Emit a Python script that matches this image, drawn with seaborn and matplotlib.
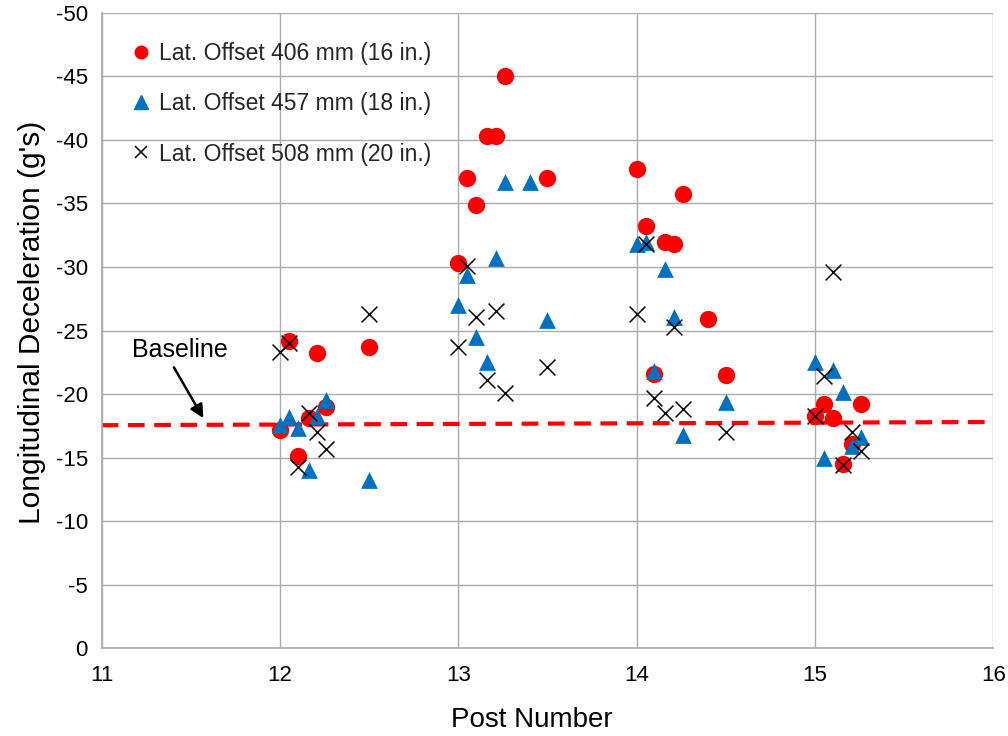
import matplotlib
matplotlib.use("Agg")
import matplotlib.pyplot as plt
from matplotlib.lines import Line2D
import pandas as pd
import seaborn as sns

# Post positions and peak longitudinal decelerations (g's) per lateral offset
offset_406_x = [12.0, 12.05, 12.1, 12.16, 12.21, 12.26, 12.5,
                13.0, 13.05, 13.1, 13.16, 13.21, 13.26, 13.5,
                14.0, 14.05, 14.1, 14.16, 14.21, 14.26, 14.4, 14.5,
                15.0, 15.05, 15.1, 15.16, 15.21, 15.26]
offset_406_y = [-17.2, -24.2, -15.1, -18.1, -23.2, -19.0, -23.7,
                -30.3, -37.0, -34.9, -40.3, -40.3, -45.0, -37.0,
                -37.7, -33.2, -21.6, -32.0, -31.8, -35.7, -25.9, -21.5,
                -18.3, -19.2, -18.1, -14.5, -16.1, -19.2]

offset_457_x = [12.0, 12.05, 12.1, 12.16, 12.21, 12.26, 12.5,
                13.0, 13.05, 13.1, 13.16, 13.21, 13.26, 13.4, 13.5,
                14.0, 14.05, 14.1, 14.16, 14.21, 14.26, 14.5,
                15.0, 15.05, 15.1, 15.16, 15.21, 15.26]
offset_457_y = [-17.6, -18.2, -17.3, -14.0, -18.3, -19.5, -13.2,
                -27.0, -29.4, -24.5, -22.5, -30.7, -36.7, -36.7, -25.8,
                -31.8, -32.0, -21.8, -29.8, -26.1, -16.8, -19.4,
                -22.5, -15.0, -21.9, -20.2, -15.9, -16.6]

offset_508_x = [12.0, 12.05, 12.1, 12.16, 12.21, 12.26, 12.5,
                13.0, 13.05, 13.1, 13.16, 13.21, 13.26, 13.5,
                14.0, 14.05, 14.1, 14.16, 14.21, 14.26, 14.5,
                15.0, 15.05, 15.1, 15.16, 15.21, 15.26]
offset_508_y = [-23.3, -24.0, -14.3, -18.5, -17.0, -15.7, -26.3,
                -23.7, -30.1, -26.1, -21.1, -26.5, -20.1, -22.1,
                -26.3, -31.8, -19.7, -18.5, -25.3, -18.8, -17.0,
                -18.3, -21.4, -29.6, -14.4, -17.0, -15.5]

baseline_x = [11.0, 16.0]
baseline_y = [-17.55, -17.8]

series_labels = ["Lat. Offset 406 mm (16 in.)",
                 "Lat. Offset 457 mm (18 in.)",
                 "Lat. Offset 508 mm (20 in.)"]
x_ticks = [11, 12, 13, 14, 15, 16]
y_ticks = [0, -5, -10, -15, -20, -25, -30, -35, -40, -45, -50]

RED = "#FF0000"
BLUE = "#0070C0"
GRID = "#ABABAB"

sns.set_theme(style="white")
plt.rcParams["font.family"] = ["Liberation Sans", "DejaVu Sans"]
plt.rcParams["axes.unicode_minus"] = False

fig = plt.figure(figsize=(10.08, 7.36), dpi=100)
ax = fig.add_axes([0.1009, 0.1192, 0.8845, 0.8635])

df406 = pd.DataFrame({"post": offset_406_x, "decel": offset_406_y})
df457 = pd.DataFrame({"post": offset_457_x, "decel": offset_457_y})
df508 = pd.DataFrame({"post": offset_508_x, "decel": offset_508_y})

# Baseline trend (dashed)
ax.plot(baseline_x, baseline_y, color=RED, lw=3.0, dashes=(4.0, 2.3),
        zorder=1.5, solid_capstyle="butt", dash_capstyle="butt")

sns.scatterplot(data=df406, x="post", y="decel", ax=ax, marker="o",
                color=RED, s=155, linewidth=0, zorder=3, legend=False)
sns.scatterplot(data=df457, x="post", y="decel", ax=ax, marker="^",
                color=BLUE, s=145, linewidth=0, zorder=4, legend=False)
sns.scatterplot(data=df508, x="post", y="decel", ax=ax, marker="x",
                color="black", s=130, linewidth=1.1, zorder=5, legend=False)

ax.set_xlim(11, 16)
ax.set_ylim(0, -50)
ax.set_xticks(x_ticks)
ax.set_yticks(y_ticks)
ax.set_xticklabels([str(v) for v in x_ticks])
ax.set_yticklabels([str(v) for v in y_ticks])

ax.grid(True, color=GRID, lw=1.0)
ax.set_axisbelow(True)
for side in ["top", "right"]:
    ax.spines[side].set_visible(False)
for side in ["left", "bottom"]:
    ax.spines[side].set_color(GRID)
    ax.spines[side].set_linewidth(1.2)

ax.tick_params(axis="both", which="major", direction="out", length=5,
               width=1.0, color=GRID, labelsize=16, labelcolor="black")
ax.tick_params(axis="x", pad=7)
ax.tick_params(axis="y", pad=5)

ax.set_xlabel("Post Number", fontsize=20, color="black")
ax.set_ylabel("Longitudinal Deceleration (g's)", fontsize=21.5, color="black")
ax.xaxis.set_label_coords(0.4826, -0.092)
ax.yaxis.set_label_coords(-0.062, 0.513)

# Baseline callout
ax.annotate("", xy=(11.57, -18.1), xytext=(11.405, -22.1),
            arrowprops=dict(arrowstyle="-|>", color="black", lw=1.8,
                            mutation_scale=20, shrinkA=0, shrinkB=0))
ax.text(11.44, -23.45, "Baseline", fontsize=18, ha="center", va="center",
        color="black")

handles = [
    Line2D([], [], linestyle="none", marker="o", color=RED, markersize=9),
    Line2D([], [], linestyle="none", marker="^", color=BLUE, markersize=9.5),
    Line2D([], [], linestyle="none", marker="x", color="black",
           markersize=9, markeredgewidth=1.1),
]
ax.legend(handles, series_labels, loc="upper left",
          bbox_to_anchor=(0.0317, 0.954), frameon=False, fontsize=16.5,
          handlelength=1.0, handletextpad=0.25, labelspacing=1.19,
          borderpad=0, borderaxespad=0)

fig.savefig("out.png", dpi=100)
